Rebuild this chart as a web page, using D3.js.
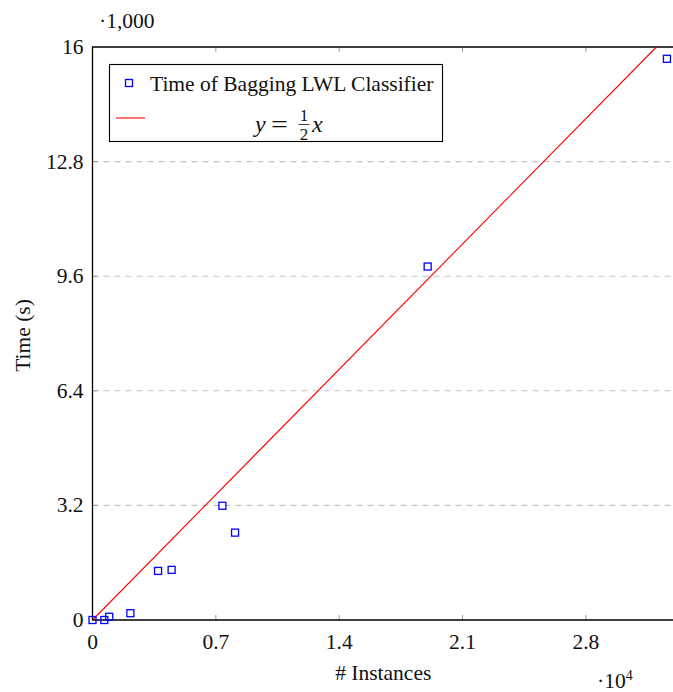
<!DOCTYPE html>
<html>
<head>
<meta charset="utf-8">
<script src="https://cdn.jsdelivr.net/npm/d3@7"></script>
<style>
  html, body { margin: 0; padding: 0; background: #fff; }
  svg { display: block; }
</style>
</head>
<body>
<svg id="chart" width="673" height="692" font-family="'Liberation Serif', 'Times New Roman', Tinos, 'Nimbus Roman', 'DejaVu Serif', serif"></svg>
<script>
// Bagging LWL classifier: training time vs. number of instances
const instances = [0, 670, 950, 2150, 3720, 4490, 7370, 8090, 19020, 32600];
const timeSec   = [0, 0, 90, 190, 1370, 1400, 3190, 2440, 9870, 15670];

const xTicks = [0, 7000, 14000, 21000, 28000];
const xTickLabels = ["0", "0.7", "1.4", "2.1", "2.8"];
const yTicks = [0, 3200, 6400, 9600, 12800, 16000];
const yTickLabels = ["0", "3.2", "6.4", "9.6", "12.8", "16"];

const refLine = [0, 32000];           // y = x / 2
const seriesName = "Time of Bagging LWL Classifier";

const svg = d3.select("#chart");

const plotL = 92.5, plotR = 674, plotT = 47, plotB = 620;
const x = d3.scaleLinear().domain([0, 33000]).range([plotL, plotR]);
const y = d3.scaleLinear().domain([0, 16000]).range([plotB, plotT]);

const fs = 21.5;
const ink = "#111";

// dashed horizontal grid
svg.append("g").selectAll("line")
  .data(yTicks.filter(v => v > 0 && v < 16000))
  .join("line")
  .attr("x1", plotL).attr("x2", plotR)
  .attr("y1", d => y(d)).attr("y2", d => y(d))
  .attr("stroke", "#c4c4c4").attr("stroke-width", 1.1)
  .attr("stroke-dasharray", "6,5");

// inward tick marks
const tickLen = 5;
const tickG = svg.append("g").attr("stroke", "#9a9a9a").attr("stroke-width", 1);
tickG.selectAll("line.xb").data(xTicks.slice(1)).join("line")
  .attr("x1", d => x(d)).attr("x2", d => x(d))
  .attr("y1", plotB).attr("y2", plotB - tickLen);
tickG.selectAll("line.xt").data(xTicks.slice(1)).join("line")
  .attr("x1", d => x(d)).attr("x2", d => x(d))
  .attr("y1", plotT).attr("y2", plotT + tickLen);
tickG.selectAll("line.yl").data(yTicks.slice(1, -1)).join("line")
  .attr("x1", plotL).attr("x2", plotL + tickLen)
  .attr("y1", d => y(d)).attr("y2", d => y(d));

// axis frame (right side runs past the canvas)
svg.append("path")
  .attr("d", `M${plotR},${plotT}H${plotL}V${plotB}H${plotR}`)
  .attr("fill", "none").attr("stroke", "#000").attr("stroke-width", 1.3);

// tick labels
svg.append("g").selectAll("text").data(xTicks).join("text")
  .attr("x", d => x(d)).attr("y", plotB + 29)
  .attr("text-anchor", "middle").attr("font-size", fs).attr("fill", ink)
  .text((d, i) => xTickLabels[i]);
svg.append("g").selectAll("text").data(yTicks).join("text")
  .attr("x", plotL - 9).attr("y", d => y(d) + 7)
  .attr("text-anchor", "end").attr("font-size", fs).attr("fill", ink)
  .text((d, i) => yTickLabels[i]);

// scale multipliers
svg.append("text").attr("x", 99).attr("y", 28).attr("font-size", fs).attr("fill", ink).text("·1,000");
const m = svg.append("text").attr("x", 597).attr("y", 688).attr("font-size", fs).attr("fill", ink);
m.append("tspan").text("·10");
m.append("tspan").attr("font-size", 14).attr("dy", -8).text("4");

// axis titles
svg.append("text").attr("x", (plotL + plotR) / 2).attr("y", 680)
  .attr("text-anchor", "middle").attr("font-size", fs).attr("fill", ink).text("# Instances");
svg.append("text")
  .attr("transform", `translate(30,${(plotT + plotB) / 2 + 2}) rotate(-90)`)
  .attr("text-anchor", "middle").attr("font-size", fs).attr("fill", ink).text("Time (s)");

// plot area clip
svg.append("clipPath").attr("id", "plotclip").append("rect")
  .attr("x", plotL).attr("y", plotT - 1).attr("width", plotR - plotL).attr("height", plotB - plotT + 2);

// reference line y = x/2
svg.append("line").attr("clip-path", "url(#plotclip)")
  .attr("x1", x(refLine[0])).attr("y1", y(refLine[0] / 2))
  .attr("x2", x(refLine[1])).attr("y2", y(refLine[1] / 2))
  .attr("stroke", "#ff0000").attr("stroke-width", 1.1);

// data markers
const sq = 7;
svg.append("g").selectAll("rect").data(instances).join("rect")
  .attr("x", d => x(d) - sq / 2)
  .attr("y", (d, i) => y(timeSec[i]) - sq / 2)
  .attr("width", sq).attr("height", sq)
  .attr("fill", "none").attr("stroke", "#0000ff").attr("stroke-width", 1.3);

// legend
const lg = svg.append("g");
lg.append("rect").attr("x", 109.5).attr("y", 64.5).attr("width", 333).attr("height", 77)
  .attr("fill", "#fff").attr("stroke", "#000").attr("stroke-width", 1.1);
lg.append("rect").attr("x", 129 - sq / 2).attr("y", 83 - sq / 2).attr("width", sq).attr("height", sq)
  .attr("fill", "none").attr("stroke", "#0000ff").attr("stroke-width", 1.3);
lg.append("text").attr("x", 150).attr("y", 91).attr("font-size", fs).attr("fill", ink).text(seriesName);
lg.append("line").attr("x1", 116).attr("x2", 145).attr("y1", 118).attr("y2", 118)
  .attr("stroke", "#ff0000").attr("stroke-width", 1.1);

// formula y = 1/2 x
const fx = lg.append("g").attr("fill", ink);
fx.append("text").attr("x", 255).attr("y", 132).attr("font-size", 24)
  .attr("font-style", "italic").text("y");
fx.append("text").attr("transform", "translate(271,132) scale(1.25,1)")
  .attr("font-size", 24).text("=");
fx.append("text").attr("x", 304).attr("y", 121).attr("font-size", 17)
  .attr("text-anchor", "middle").text("1");
fx.append("line").attr("x1", 298.5).attr("x2", 309.5).attr("y1", 124.5).attr("y2", 124.5)
  .attr("stroke", ink).attr("stroke-width", 0.8);
fx.append("text").attr("x", 304).attr("y", 140).attr("font-size", 17)
  .attr("text-anchor", "middle").text("2");
fx.append("text").attr("x", 312).attr("y", 132).attr("font-size", 24)
  .attr("font-style", "italic").text("x");
</script>
</body>
</html>
